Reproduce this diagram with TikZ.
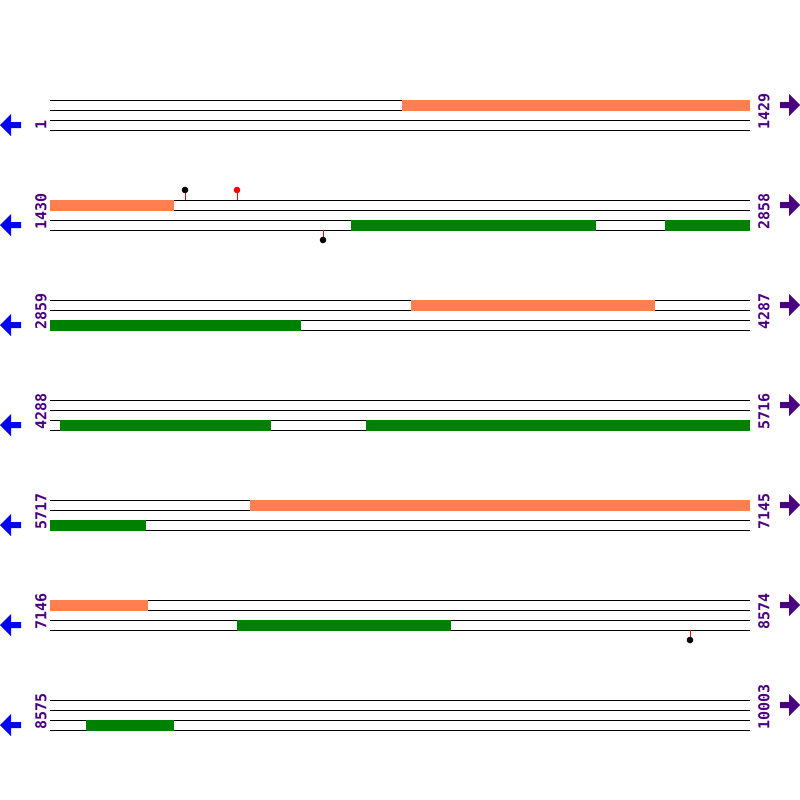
\documentclass[tikz,border=0pt]{standalone}
\usepackage{fontspec}
\setmainfont{DejaVu Sans}
\setmonofont{DejaVu Sans Mono}
\definecolor{featorange}{HTML}{FF7F50}
\definecolor{featgreen}{HTML}{008000}
\definecolor{rulepurple}{HTML}{4B0082}
\begin{document}
\begin{tikzpicture}[x=1pt, y=-1pt, line cap=butt,
  rowlabel/.style={rotate=90, anchor=west, inner sep=0pt, text=rulepurple, font=\ttfamily\bfseries\fontsize{15}{15}\selectfont},
  stick/.style={draw=red, line width=1pt}]
\useasboundingbox (0,0) rectangle (800,800);

\foreach \r in {0,...,6} {
  \foreach \l in {0,10,20,30}
    \draw[line width=1pt] (50,{100+100*\r+\l}) -- (750,{100+100*\r+\l}) ;
  \fill[blue] (0,{125+100*\r}) -- (11,{114+100*\r}) -- (11,{122+100*\r}) -- (21,{122+100*\r})
    -- (21,{128+100*\r}) -- (11,{128+100*\r}) -- (11,{136+100*\r}) -- cycle ;
  \fill[rulepurple] (800,{105+100*\r}) -- (789,{94+100*\r}) -- (789,{102+100*\r}) -- (780,{102+100*\r})
    -- (780,{108+100*\r}) -- (789,{108+100*\r}) -- (789,{116+100*\r}) -- cycle ;
}

% orange bars
\fill[featorange] (402,99.5) rectangle (750,110.5) ;
\fill[featorange] (50,199.5) rectangle (174,210.5) ;
\fill[featorange] (411,299.5) rectangle (655,310.5) ;
\fill[featorange] (250,499.5) rectangle (750,510.5) ;
\fill[featorange] (50,599.5) rectangle (148,610.5) ;

% green bars
\fill[featgreen] (351,219.5) rectangle (596,230.5) ;
\fill[featgreen] (665,219.5) rectangle (750,230.5) ;
\fill[featgreen] (50,319.5) rectangle (301,330.5) ;
\fill[featgreen] (60,419.5) rectangle (271,430.5) ;
\fill[featgreen] (366,419.5) rectangle (750,430.5) ;
\fill[featgreen] (50,519.5) rectangle (146,530.5) ;
\fill[featgreen] (237,619.5) rectangle (451,630.5) ;
\fill[featgreen] (86,719.5) rectangle (174,730.5) ;

% markers
\draw[stick] (185,200) -- (185,190) ;
\fill[black] (185,190) circle (3.3) ;
\draw[stick] (237,200) -- (237,190) ;
\fill[red] (237,190) circle (3.3) ;
\draw[stick] (323,230) -- (323,240) ;
\fill[black] (323,240) circle (3.3) ;
\draw[stick] (690,630) -- (690,640) ;
\fill[black] (690,640) circle (3.3) ;

% coordinates at both ends
\node[rowlabel] (start1) at (41,130) {1} ;
\node[rowlabel] (start2) at (41,230) {1430} ;
\node[rowlabel] (start3) at (41,330) {2859} ;
\node[rowlabel] (start4) at (41,430) {4288} ;
\node[rowlabel] (start5) at (41,530) {5717} ;
\node[rowlabel] (start6) at (41,630) {7146} ;
\node[rowlabel] (start7) at (41,730) {8575} ;
\node[rowlabel] (end1) at (764,130) {1429} ;
\node[rowlabel] (end2) at (764,230) {2858} ;
\node[rowlabel] (end3) at (764,330) {4287} ;
\node[rowlabel] (end4) at (764,430) {5716} ;
\node[rowlabel] (end5) at (764,530) {7145} ;
\node[rowlabel] (end6) at (764,630) {8574} ;
\node[rowlabel] (end7) at (764,730) {10003} ;

\end{tikzpicture}
\end{document}
